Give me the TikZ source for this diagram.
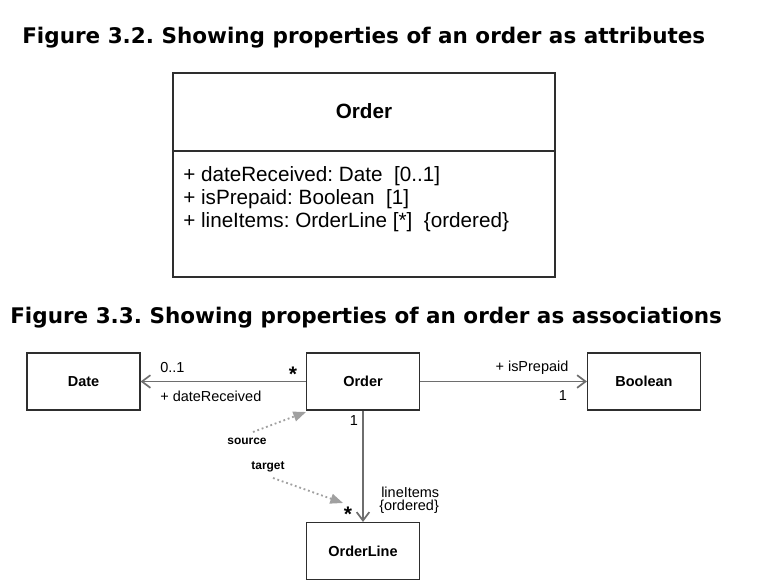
\documentclass[tikz,border=0pt]{standalone}
\usepackage{fontspec}
\setmainfont{Liberation Sans}
\newfontfamily\titlefont{DejaVu Sans}
\usetikzlibrary{arrows.meta,positioning}
\frenchspacing
\definecolor{boxline}{HTML}{2E2E2E}
\definecolor{connline}{HTML}{6E6E6E}
\definecolor{dotgray}{HTML}{A0A0A0}
\tikzset{
  figtitle/.style={anchor=west, inner sep=0pt,
    font=\titlefont\bfseries\fontsize{15.3}{18}\selectfont},
  classbox/.style={draw=boxline, line width=0.8pt,
    minimum width=2.825cm, minimum height=1.425cm,
    font=\bfseries\fontsize{10.3}{12}\selectfont},
  attrtext/.style={anchor=west, inner sep=0pt,
    font=\fontsize{14.7}{17}\selectfont},
  rolelabel/.style={inner sep=0pt, font=\fontsize{10.3}{12}\selectfont},
  multlabel/.style={inner sep=0pt, font=\bfseries\fontsize{15}{17}\selectfont},
  notelabel/.style={inner sep=0pt, font=\bfseries\fontsize{8.5}{10}\selectfont},
  assoc/.style={draw=connline, line width=1.2pt,
    -{Straight Barb[length=6pt,width=9pt]}},
  pointer/.style={draw=dotgray, line width=1.3pt, dotted,
    -{Triangle[length=9pt,width=7pt]}}
}

\begin{document}
\begin{tikzpicture}[x=0.025cm,y=-0.025cm]
  \useasboundingbox[fill=white] (0,0) rectangle (772,587);

  % Figure 3.2
  \node[figtitle] (title32) at (22,38) {Figure 3.2. Showing properties of an order as attributes};
  \node[draw=boxline, line width=0.8pt, minimum width=9.55cm, minimum height=5.1cm] (attrbox) at (364,175) {};
  \draw[boxline, line width=0.8pt] (attrbox.west |- 0,151) -- (attrbox.east |- 0,151);
  \node[font=\bfseries\fontsize{14.7}{17}\selectfont] (attrname) at (364,111) {Order};
  \foreach \i/\txt in {0/{+ dateReceived: Date\ \ [0..1]},1/{+ isPrepaid: Boolean\ \ [1]},2/{+ lineItems: OrderLine [*]\ \ \{ordered\}}} {
    \node[attrtext] (attr\i) at (183,{176+\i*23}) {\txt};
  }

  % Figure 3.3
  \node[figtitle] (title33) at (10,318) {Figure 3.3. Showing properties of an order as associations};
  \node[classbox] (date) at (83.5,381.5) {Date};
  \node[classbox] (order) at (363,381.5) {Order};
  \node[classbox] (bool) at (644,381.5) {Boolean};
  \node[classbox] (line) at (363,551) {OrderLine};

  \draw[assoc] (order.west) -- (date.east);
  \draw[assoc] (order.east) -- (bool.west);
  \draw[assoc] (order.south) -- (line.north);

  \node[rolelabel, anchor=west] (m01) at (160,368) {0..1};
  \node[multlabel] (mdate) at (293,374) {*};
  \node[rolelabel, anchor=west] (rdate) at (160,396) {+ dateReceived};
  \node[rolelabel] (rbool) at (532,368) {+ isPrepaid};
  \node[rolelabel] (mbool) at (563,396) {1};
  \node[rolelabel] (morder) at (354,421) {1};
  \node[multlabel] (mline) at (348,514) {*};
  \node[rolelabel, anchor=west] (rline) at (381,492) {lineItems};
  \node[rolelabel, anchor=west] (oline) at (379,507) {\{ordered\}};

  \node[notelabel] (source) at (247,441) {source};
  \node[notelabel] (target) at (268,467) {target};
  \coordinate (srcstart) at (253,432);
  \coordinate (srcend) at (306,412);
  \coordinate (tgtstart) at (273,478);
  \coordinate (tgtend) at (343,503);
  \draw[pointer] (srcstart) -- (srcend);
  \draw[pointer] (tgtstart) -- (tgtend);
\end{tikzpicture}
\end{document}
